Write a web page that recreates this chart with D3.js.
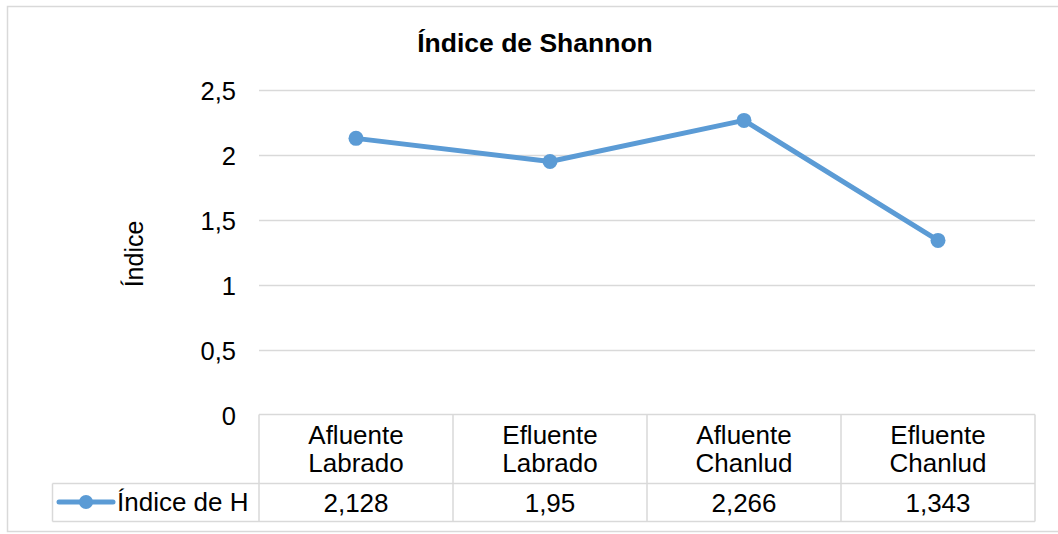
<html>
<head>
    <style>
        body { margin: 0; background: #fff; }
        text { font-family: "Liberation Sans", Arial, sans-serif; fill: #000; }
    </style>
    <script src="https://d3js.org/d3.v7.min.js"></script>
</head>
<body>
    <svg id="chart"></svg>
    <script>
        var categories = [["Afluente", "Labrado"], ["Efluente", "Labrado"], ["Afluente", "Chanlud"], ["Efluente", "Chanlud"]];
        var values = [2.128, 1.95, 2.266, 1.343];
        var valueLabels = ["2,128", "1,95", "2,266", "1,343"];
        var yTicks = [0, 0.5, 1, 1.5, 2, 2.5];
        var seriesName = "Índice de H";
        var title = "Índice de Shannon";
        var yTitle = "Índice";

        var W = 1058, H = 534;
        var blue = "#5b9bd5", grid = "#d9d9d9";
        var fs = 26;

        var svg = d3.select("#chart").attr("width", W).attr("height", H);

        // chart frame
        svg.append("rect")
            .attr("x", 7.5).attr("y", 6.5)
            .attr("width", 1070).attr("height", 525)
            .attr("fill", "#fff").attr("stroke", grid).attr("stroke-width", 1.5);

        var x = d3.scaleBand()
            .domain(d3.range(categories.length))
            .range([259, 1035]);

        var y = d3.scaleLinear()
            .domain([0, 2.5])
            .range([415, 90]);

        // gridlines
        svg.append("g").selectAll("line")
            .data(yTicks.filter(function (d) { return d > 0; }))
            .join("line")
            .attr("x1", 259).attr("x2", 1035)
            .attr("y1", function (d) { return Math.round(y(d)) + 0.5; })
            .attr("y2", function (d) { return Math.round(y(d)) + 0.5; })
            .attr("stroke", grid).attr("stroke-width", 1.5);

        // y tick labels
        svg.append("g").selectAll("text")
            .data(yTicks)
            .join("text")
            .attr("x", 236)
            .attr("y", function (d) { return y(d) + 10; })
            .attr("text-anchor", "end")
            .attr("font-size", 25.5)
            .text(function (d) { return d3.format(".1~f")(d).replace(".", ","); });

        // title
        svg.append("text")
            .attr("x", 535).attr("y", 52)
            .attr("text-anchor", "middle")
            .attr("font-size", 26.5).attr("font-weight", "bold")
            .text(title);

        // y axis title
        svg.append("text")
            .attr("transform", "translate(143,254) rotate(-90)")
            .attr("text-anchor", "middle")
            .attr("font-size", 25)
            .text(yTitle);

        // data table
        var tTop = 414.5, tMid = 483.5, tBot = 521.5, legLeft = 52.5;
        var tbl = svg.append("g").attr("stroke", grid).attr("stroke-width", 1.5);
        tbl.append("line").attr("x1", 259).attr("x2", 1035).attr("y1", tTop).attr("y2", tTop);
        tbl.append("line").attr("x1", legLeft).attr("x2", 1035).attr("y1", tMid).attr("y2", tMid);
        tbl.append("line").attr("x1", legLeft).attr("x2", 1035).attr("y1", tBot).attr("y2", tBot);
        tbl.append("line").attr("x1", legLeft).attr("x2", legLeft).attr("y1", tMid).attr("y2", tBot);
        tbl.selectAll("line.v")
            .data(d3.range(categories.length + 1))
            .join("line")
            .attr("class", "v")
            .attr("x1", function (i) { return i < categories.length ? x(i) : x.range()[1]; })
            .attr("x2", function (i) { return i < categories.length ? x(i) : x.range()[1]; })
            .attr("y1", tTop).attr("y2", tBot);

        var catText = svg.append("g").selectAll("text")
            .data(categories)
            .join("text")
            .attr("text-anchor", "middle")
            .attr("font-size", fs);
        catText.selectAll("tspan")
            .data(function (d, i) { return d.map(function (s) { return { s: s, i: i }; }); })
            .join("tspan")
            .attr("x", function (d) { return x(d.i) + x.bandwidth() / 2; })
            .attr("y", function (d, j) { return 444 + j * 28; })
            .text(function (d) { return d.s; });

        svg.append("g").selectAll("text")
            .data(valueLabels)
            .join("text")
            .attr("x", function (d, i) { return x(i) + x.bandwidth() / 2; })
            .attr("y", 512)
            .attr("text-anchor", "middle")
            .attr("font-size", fs)
            .text(function (d) { return d; });

        // legend key
        svg.append("line")
            .attr("x1", 59).attr("x2", 113).attr("y1", 502).attr("y2", 502)
            .attr("stroke", blue).attr("stroke-width", 5).attr("stroke-linecap", "round");
        svg.append("circle").attr("cx", 86).attr("cy", 502).attr("r", 7).attr("fill", blue);
        svg.append("text")
            .attr("x", 117).attr("y", 511)
            .attr("font-size", fs)
            .text(seriesName);

        // series
        var line = d3.line()
            .x(function (d, i) { return x(i) + x.bandwidth() / 2; })
            .y(function (d) { return y(d); });

        svg.append("path")
            .datum(values)
            .attr("d", line)
            .attr("fill", "none")
            .attr("stroke", blue).attr("stroke-width", 5)
            .attr("stroke-linejoin", "round").attr("stroke-linecap", "round");

        svg.append("g").selectAll("circle")
            .data(values)
            .join("circle")
            .attr("cx", function (d, i) { return x(i) + x.bandwidth() / 2; })
            .attr("cy", function (d) { return y(d); })
            .attr("r", 7.5)
            .attr("fill", blue);
    </script>
</body>
</html>
